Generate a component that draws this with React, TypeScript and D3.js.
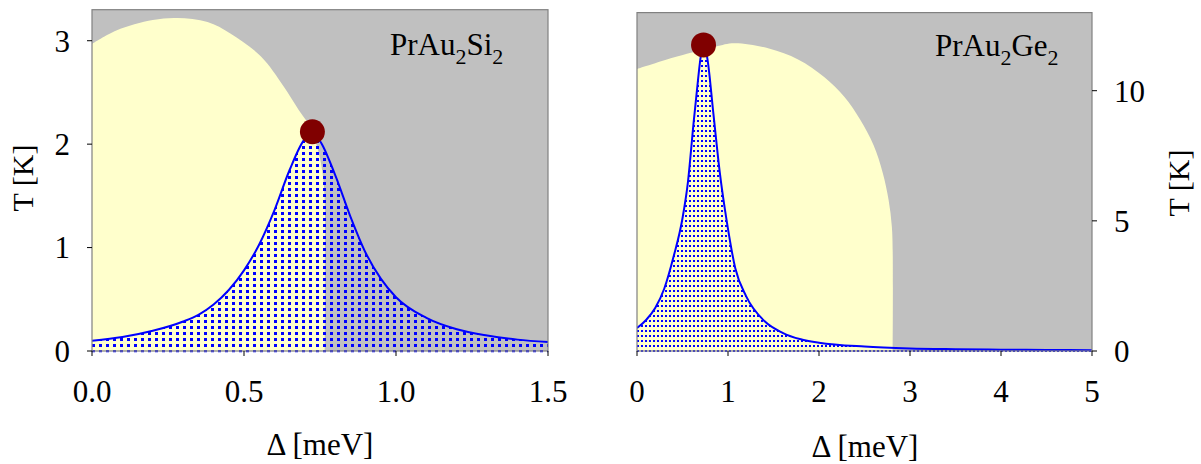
import React from "react";
import * as d3 from "d3";

type Pt = [number, number];

// ---- PrAu2Si2 (left panel) ----
const siTicksX = [0, 0.5, 1.0, 1.5];
const siTicksY = [0, 1, 2, 3];
// blue T(Δ) curve
const siCurve: Pt[] = [
  [0, 0.1], [0.1, 0.135], [0.2, 0.195], [0.3, 0.285], [0.35, 0.35], [0.4, 0.45],
  [0.45, 0.59], [0.5, 0.78], [0.55, 1.03], [0.6, 1.36], [0.65, 1.75], [0.7, 2.05],
  [0.725, 2.1], [0.75, 2.03], [0.8, 1.7], [0.85, 1.3], [0.9, 0.95], [0.95, 0.7],
  [1.0, 0.52], [1.1, 0.32], [1.2, 0.21], [1.3, 0.15], [1.4, 0.11], [1.5, 0.086],
];
// edge of the pale yellow phase
const siPhase: Pt[] = [
  [0, 2.97], [0.08, 3.1], [0.2, 3.2], [0.28, 3.22], [0.38, 3.18], [0.455, 3.07],
  [0.555, 2.85], [0.63, 2.56], [0.68, 2.33], [0.71, 2.2], [0.74, 1.98], [0.757, 1.75],
  [0.765, 1.5], [0.766, 0.8], [0.766, 0],
];
const siPeak: Pt = [0.725, 2.12];

// ---- PrAu2Ge2 (right panel) ----
const geTicksX = [0, 1, 2, 3, 4, 5];
const geTicksY = [0, 5, 10];
const geCurve: Pt[] = [
  [0, 0.88], [0.1, 1.19], [0.2, 1.65], [0.3, 2.4], [0.4, 3.6], [0.5, 5.1],
  [0.56, 6.5], [0.62, 8.7], [0.67, 10.4], [0.7, 11.3], [0.73, 11.7], [0.77, 11.3],
  [0.84, 9.1], [0.91, 6.85], [0.99, 4.9], [1.08, 3.18], [1.2, 2.1], [1.4, 1.15],
  [1.6, 0.7], [1.8, 0.45], [2.0, 0.32], [2.5, 0.17], [3.0, 0.1], [3.5, 0.07],
  [4.0, 0.05], [4.5, 0.04], [5.0, 0.03],
];
const gePhase: Pt[] = [
  [0, 10.83], [0.44, 11.31], [0.86, 11.69], [1.07, 11.82], [1.45, 11.62], [1.77, 11.2],
  [2.06, 10.52], [2.28, 9.76], [2.45, 8.9], [2.6, 7.9], [2.7, 6.85], [2.765, 5.8],
  [2.8, 4.8], [2.81, 3.8], [2.81, 0],
];
const gePeak: Pt = [0.731, 11.76];

const FONT = '"Liberation Serif", "Times New Roman", serif';
const GRAY = "#c0c0c0";
const YELLOW = "#ffffcc";
const BLUE = "#0000ff";
const FRAME = "#808080";

type PanelProps = {
  id: string;
  x: d3.ScaleLinear<number, number>;
  y: d3.ScaleLinear<number, number>;
  ticksX: number[];
  ticksY: number[];
  fmt: (n: number) => string;
  curve: Pt[];
  phase: Pt[];
  peak: Pt;
  dx: number;
  dy: number;
  dot: number;
  axisRight?: boolean;
  name: string[];
  nameX: number;
  nameY: number;
  xTitleX: number;
  xTitleY: number;
  yTitleX: number;
  yTitleY: number;
};

function Panel(p: PanelProps) {
  const { x, y } = p;
  const [x0, x1] = x.range();
  const [yb, yt] = y.range();

  const area = d3
    .area<Pt>()
    .x((d) => x(d[0]))
    .y0(yb + 1.5)
    .y1((d) => y(d[1]))
    .curve(d3.curveMonotoneX);
  const line = d3
    .line<Pt>()
    .x((d) => x(d[0]))
    .y((d) => y(d[1]))
    .curve(d3.curveMonotoneX);
  const edge = d3
    .line<Pt>()
    .x((d) => x(d[0]))
    .y((d) => y(d[1]))
    .curve(d3.curveCatmullRom);
  const phasePath = edge(p.phase) + `L${x(0)},${yb}Z`;

  const tick = 5;
  return (
    <g>
      <defs>
        <clipPath id={`clip-${p.id}`}>
          <rect x={x0} y={yt} width={x1 - x0} height={yb - yt + 1.5} />
        </clipPath>
        <pattern
          id={`dots-${p.id}`}
          patternUnits="userSpaceOnUse"
          x={x0}
          y={yb - 1}
          width={p.dx}
          height={p.dy}
        >
          <rect width={p.dot} height={p.dot} fill={BLUE} shapeRendering="crispEdges" />
        </pattern>
      </defs>
      <rect x={x0} y={yt} width={x1 - x0} height={yb - yt} fill={GRAY} />
      <g clipPath={`url(#clip-${p.id})`}>
        <path d={phasePath} fill={YELLOW} />
        <path d={area(p.curve) ?? ""} fill={`url(#dots-${p.id})`} />
        <path d={line(p.curve) ?? ""} fill="none" stroke={BLUE} strokeWidth={2} />
      </g>
      <rect
        x={x0}
        y={yt}
        width={x1 - x0}
        height={yb - yt}
        fill="none"
        stroke={FRAME}
        strokeWidth={1.2}
      />
      <circle cx={x(p.peak[0])} cy={y(p.peak[1])} r={12.5} fill="#800000" />

      {/* x axis */}
      {p.ticksX.map((t) => (
        <g key={`x${t}`}>
          <line x1={x(t)} x2={x(t)} y1={yb} y2={yb + tick} stroke="#000" strokeWidth={1} />
          <text
            x={x(t)}
            y={yb + 51}
            textAnchor="middle"
            fontFamily={FONT}
            fontSize={31}
            fill="#000"
          >
            {p.fmt(t)}
          </text>
        </g>
      ))}
      {/* y axis */}
      {p.ticksY.map((t) => {
        const ax = p.axisRight ? x1 : x0;
        const dir = p.axisRight ? 1 : -1;
        return (
          <g key={`y${t}`}>
            <line x1={ax} x2={ax + dir * tick} y1={y(t)} y2={y(t)} stroke="#000" strokeWidth={1} />
            <text
              x={p.axisRight ? ax + 22 : ax - 22}
              y={y(t)}
              dy="0.35em"
              textAnchor={p.axisRight ? "start" : "end"}
              fontFamily={FONT}
              fontSize={31}
              fill="#000"
            >
              {t}
            </text>
          </g>
        );
      })}

      {/* compound name */}
      <text x={p.nameX} y={p.nameY} fontFamily={FONT} fontSize={31} fill="#000">
        <tspan>{p.name[0]}</tspan>
        <tspan fontSize={22} dy={9}>{p.name[1]}</tspan>
        <tspan dy={-9}>{p.name[2]}</tspan>
        <tspan fontSize={22} dy={9}>{p.name[3]}</tspan>
      </text>

      <text
        x={p.xTitleX}
        y={p.xTitleY}
        textAnchor="middle"
        fontFamily={FONT}
        fontSize={31}
        fill="#000"
      >
        Δ [meV]
      </text>
      <text
        transform={`translate(${p.yTitleX},${p.yTitleY}) rotate(-90)`}
        textAnchor="middle"
        fontFamily={FONT}
        fontSize={30}
        fill="#000"
      >
        T [K]
      </text>
    </g>
  );
}

export default function App() {
  const xSi = d3.scaleLinear().domain([0, 1.5]).range([92, 548]);
  const ySi = d3.scaleLinear().domain([0, 3.3]).range([351, 9.7]);
  const xGe = d3.scaleLinear().domain([0, 5]).range([637, 1092]);
  const yGe = d3.scaleLinear().domain([0, 13]).range([351, 12.6]);

  return (
    <svg
      width={1201}
      height={464}
      style={{ position: "absolute", left: 0, top: 0, background: "#fff" }}
    >
      <Panel
        id="si"
        x={xSi}
        y={ySi}
        ticksX={siTicksX}
        ticksY={siTicksY}
        fmt={d3.format(".1f")}
        curve={siCurve}
        phase={siPhase}
        peak={siPeak}
        dx={7}
        dy={6}
        dot={2.5}
        name={["PrAu", "2", "Si", "2"]}
        nameX={390}
        nameY={55}
        xTitleX={320}
        xTitleY={455}
        yTitleX={33}
        yTitleY={178}
      />
      <Panel
        id="ge"
        x={xGe}
        y={yGe}
        ticksX={geTicksX}
        ticksY={geTicksY}
        fmt={d3.format("d")}
        curve={geCurve}
        phase={gePhase}
        peak={gePeak}
        dx={4}
        dy={5}
        dot={2}
        axisRight
        name={["PrAu", "2", "Ge", "2"]}
        nameX={935}
        nameY={56}
        xTitleX={865}
        xTitleY={457}
        yTitleX={1189}
        yTitleY={183}
      />
    </svg>
  );
}
